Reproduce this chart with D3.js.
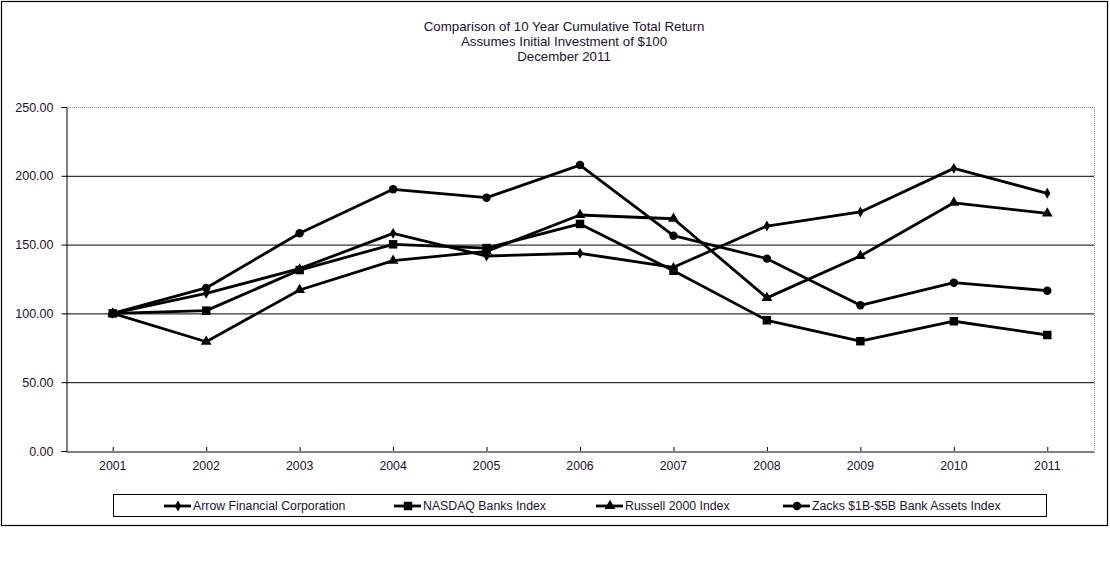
<!DOCTYPE html>
<html>
<head>
<meta charset="utf-8">
<script src="https://cdn.jsdelivr.net/npm/d3@7"></script>
<style>
  body { margin: 0; background: #fff; }
  svg { display: block; font-family: "Liberation Sans", Arial, sans-serif; }
  text { fill: #1c1030; }
</style>
</head>
<body>
<div id="chart"></div>
<script>
// ---------- DATA ----------
const YEARS = ["2001", "2002", "2003", "2004", "2005", "2006", "2007", "2008", "2009", "2010", "2011"];

const ARROW   = [100, 114.6, 132.5, 158.2, 141.7, 143.7, 133.5, 163.5, 173.7, 205.4, 187.3];
const NASDAQ  = [100, 102.0, 131.5, 150.2, 147.5, 165.0, 131.0, 95.0, 79.8, 94.3, 84.3];
const RUSSELL = [100, 79.4, 117.0, 138.3, 145.0, 171.5, 168.8, 111.3, 141.7, 180.4, 172.7];
const ZACKS   = [100, 118.5, 158.2, 190.2, 184.1, 207.8, 156.5, 139.8, 105.9, 122.3, 116.5];

const SERIES = [
  { name: "Arrow Financial Corporation", values: ARROW, symbol: d3.symbolDiamond, size: 34 },
  { name: "NASDAQ Banks Index", values: NASDAQ, symbol: d3.symbolSquare, size: 72 },
  { name: "Russell 2000 Index", values: RUSSELL, symbol: d3.symbolTriangle, size: 50 },
  { name: "Zacks $1B-$5B Bank Assets Index", values: ZACKS, symbol: d3.symbolCircle, size: 56 }
];

const Y_TICKS = [0, 50, 100, 150, 200, 250];
const TITLE = ["Comparison of 10 Year Cumulative Total Return", "Assumes Initial Investment of $100", "December 2011"];

// ---------- SCAFFOLD ----------
const width = 1110, height = 576;
const plot = { left: 66, right: 1094, top: 107, bottom: 451 };

const svg = d3.select("#chart").append("svg")
  .attr("width", width)
  .attr("height", height);

// outer frame
svg.append("rect")
  .attr("x", 1.5).attr("y", 1.5)
  .attr("width", 1106).attr("height", 524)
  .attr("fill", "none")
  .attr("stroke", "#000")
  .attr("stroke-width", 1.2);

// title
svg.selectAll(".title")
  .data(TITLE)
  .join("text")
  .attr("class", "title")
  .attr("x", 564)
  .attr("y", (d, i) => 31 + i * 15)
  .attr("text-anchor", "middle")
  .style("font-size", "13.3px")
  .text(d => d);

const x = d3.scaleBand().domain(YEARS).range([plot.left, plot.right]);
const y = d3.scaleLinear().domain([0, 250]).range([plot.bottom, plot.top]);
const cx = d => x(d) + x.bandwidth() / 2;

// gridlines
svg.append("g")
  .selectAll("line")
  .data(Y_TICKS.filter(t => t > 0 && t < 250))
  .join("line")
  .attr("x1", plot.left).attr("x2", plot.right)
  .attr("y1", d => y(d) + 0.5).attr("y2", d => y(d) + 0.5)
  .attr("stroke", "#000")
  .attr("stroke-width", 1);

// dotted top & right border
svg.append("path")
  .attr("d", `M${plot.left},${plot.top + 0.5}H${plot.right + 0.5}V${plot.bottom}`)
  .attr("fill", "none")
  .attr("stroke", "#888")
  .attr("stroke-width", 1)
  .attr("stroke-dasharray", "1,1");

// y axis
const yAxis = svg.append("g")
  .attr("transform", `translate(${plot.left + 0.5},0)`)
  .call(d3.axisLeft(y).tickValues(Y_TICKS).tickFormat(d3.format(".2f")).tickSize(5).tickPadding(8));
yAxis.selectAll("text").style("font-size", "12.5px").attr("fill", "#1c1030");
yAxis.selectAll("line, path").attr("stroke", "#000");

// x axis
const xAxis = svg.append("g")
  .attr("transform", `translate(0,${plot.bottom + 0.5})`)
  .call(d3.axisBottom(x).tickSize(0).tickPadding(10).tickSizeOuter(0));
xAxis.selectAll("text").style("font-size", "12.3px").attr("fill", "#1c1030");
xAxis.select(".domain").attr("stroke", "#000");
// small inner ticks at category centres
svg.append("g")
  .selectAll("line")
  .data(YEARS)
  .join("line")
  .attr("x1", d => cx(d) + 0.5).attr("x2", d => cx(d) + 0.5)
  .attr("y1", plot.bottom - 4).attr("y2", plot.bottom)
  .attr("stroke", "#000");

// ---------- SERIES ----------
const line = d3.line().x((d, i) => cx(YEARS[i])).y(d => y(d));

const groups = svg.selectAll(".series")
  .data(SERIES)
  .join("g")
  .attr("class", "series");

groups.append("path")
  .attr("d", d => line(d.values))
  .attr("fill", "none")
  .attr("stroke", "#000")
  .attr("stroke-width", 2.8)
  .attr("stroke-linejoin", "round");

groups.each(function (s) {
  d3.select(this).selectAll(".pt")
    .data(s.values)
    .join("path")
    .attr("class", "pt")
    .attr("transform", (d, i) => `translate(${cx(YEARS[i])},${y(d)})`)
    .attr("d", d3.symbol().type(s.symbol).size(s.size))
    .attr("fill", "#000");
});

// ---------- LEGEND ----------
const legend = svg.append("g");
legend.append("rect")
  .attr("x", 113.5).attr("y", 494.5)
  .attr("width", 933).attr("height", 22)
  .attr("fill", "none")
  .attr("stroke", "#000")
  .attr("stroke-width", 1);

const LEGEND_X = [164, 394, 596, 783];
const items = legend.selectAll(".item")
  .data(SERIES)
  .join("g")
  .attr("class", "item")
  .attr("transform", (d, i) => `translate(${LEGEND_X[i]},506)`);

items.append("line")
  .attr("x1", 0).attr("x2", 27)
  .attr("stroke", "#000")
  .attr("stroke-width", 2.8);
items.append("path")
  .attr("transform", "translate(14,0)")
  .attr("d", d => d3.symbol().type(d.symbol).size(d.size)())
  .attr("fill", "#000");
items.append("text")
  .attr("x", 29)
  .attr("y", 4)
  .style("font-size", "12.3px")
  .text(d => d.name);
</script>
</body>
</html>
